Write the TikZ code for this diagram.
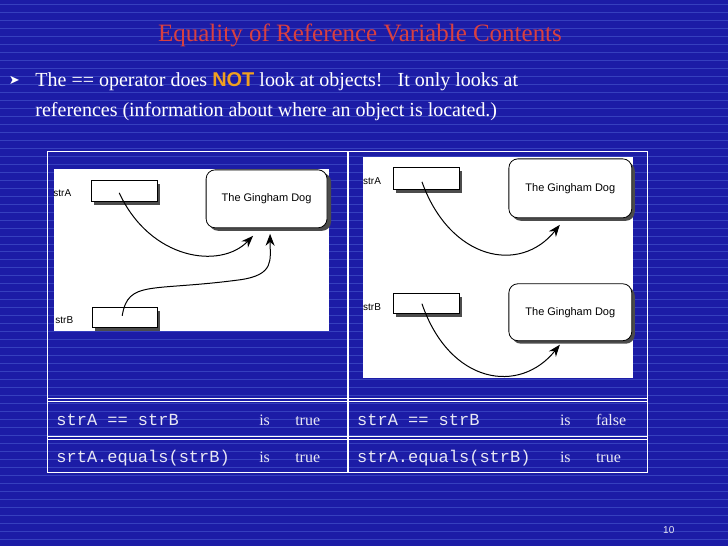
\documentclass[tikz,border=0pt]{standalone}
\usepackage{fontspec}
\setmainfont{Liberation Serif}
\newfontfamily\arialf{Liberation Sans}
\newfontfamily\courf{Liberation Mono}
\newfontfamily\djv{DejaVu Sans}
\usetikzlibrary{arrows.meta}
\definecolor{bg}{HTML}{1C1CA6}
\definecolor{stripe}{HTML}{3640BE}
\definecolor{ttl}{HTML}{D84040}
\definecolor{orng}{HTML}{F0A020}
\definecolor{tbl}{HTML}{E8E8F4}
\tikzset{
  varbox/.style={draw,fill=white,line width=0.8pt,minimum width=66pt,minimum height=21pt,inner sep=0pt},
  dogbox/.style={draw,fill=white,line width=0.8pt,rounded corners=9pt,inner sep=0pt,font=\arialf\fontsize{11}{13}\selectfont},
  shad/.style={fill=black!70},
  lbl/.style={font=\arialf\fontsize{10}{12}\selectfont,inner sep=0pt,anchor=west},
  ref/.style={line width=1pt,-{Stealth[length=12pt,width=9pt]}},
  cell/.style={font=\courf\fontsize{17}{19}\selectfont,text=tbl,anchor=base west,inner sep=0pt},
  celw/.style={font=\fontsize{16}{18}\selectfont,text=tbl,anchor=base west,inner sep=0pt},
  frame/.style={draw=white,line width=1.2pt}
}
\begin{document}
\begin{tikzpicture}[x=1pt,y=-1pt]
\fill[bg] (0,0) rectangle (728,546);
\foreach \yy in {4,12,...,546} \draw[stripe,line width=0.6pt] (0,\yy) -- (728,\yy);
\useasboundingbox (0,0) rectangle (728,546);
\node[text=ttl,font=\fontsize{25}{29}\selectfont] (title) at (360,35) {Equality of Reference Variable Contents};
\node[text=white,font=\djv\fontsize{13}{15}\selectfont] (bul) at (14,80) {➤};
\node[text=white,anchor=west,font=\fontsize{20}{24}\selectfont,inner sep=0pt] (l1) at (35,82) {The == operator does \textcolor{orng}{\arialf\bfseries NOT} look at objects!\ \ \ It only looks at};
\node[text=white,anchor=west,font=\fontsize{20}{24}\selectfont,inner sep=0pt] (l2) at (35,112) {references (information about where an object is located.)};
% table
\draw[frame] (47,152) rectangle (648,473);
\draw[frame] (348,152) -- (348,473);
\draw[frame] (47,399) -- (648,399);
\draw[frame] (47,402) -- (648,402);
\draw[frame] (47,437) -- (648,437);
\draw[frame] (47,440) -- (648,440);
% left panel
\fill[white] (54,169) rectangle (329,331);
\fill[shad] (94,184) rectangle (160,205);
\node[varbox] (a1) at (124,191.5) {};
\fill[shad] (95,311) rectangle (160,331);
\node[varbox,minimum height=20pt,minimum width=65pt] (b1) at (124.5,318) {};
\fill[shad,rounded corners=9pt] (209,173) rectangle (331,231);
\node[dogbox,minimum width=121pt,minimum height=58pt] (d1) at (266.5,199) {The Gingham Dog};
\node[lbl] (la1) at (53,193) {strA};
\node[lbl] (lb1) at (55,320) {strB};
\draw[ref] (119,193) .. controls (150,260) and (220,270) .. (253,236);
\draw[ref] (122,316) .. controls (128,280) and (150,292) .. (240,280) .. controls (275,275) and (270,260) .. (270,234);
% right panel
\fill[white] (363,157) rectangle (633,378);
\fill[shad] (396,171) rectangle (462,193);
\node[varbox,minimum height=22pt] (a2) at (426,179) {};
\fill[shad] (396,297) rectangle (462,317);
\node[varbox,minimum height=20pt] (b2) at (426,304) {};
\fill[shad,rounded corners=9pt] (512,162) rectangle (635,221);
\node[dogbox,minimum width=123pt,minimum height=59pt] (d2) at (570.5,188.5) {The Gingham Dog};
\fill[shad,rounded corners=9pt] (512,287) rectangle (635,344);
\node[dogbox,minimum width=123pt,minimum height=57pt] (d3) at (570.5,312.5) {The Gingham Dog};
\node[lbl] (la2) at (363,181) {strA};
\node[lbl] (lb2) at (363,307) {strB};
\draw[ref] (422,182) .. controls (450,260) and (520,275) .. (560,225);
\draw[ref] (422,304) .. controls (450,385) and (520,395) .. (560,345);
% table text
\node[cell] (c1) at (56,426) {strA == strB};
\node[celw] (c2) at (259,426) {is};
\node[celw] (c3) at (295,426) {true};
\node[cell] (c4) at (357,426) {strA == strB};
\node[celw] (c5) at (560,426) {is};
\node[celw] (c6) at (596,426) {false};
\node[cell] (c7) at (56,463) {srtA.equals(strB)};
\node[celw] (c8) at (259,463) {is};
\node[celw] (c9) at (295,463) {true};
\node[cell] (c10) at (357,463) {strA.equals(strB)};
\node[celw] (c11) at (560,463) {is};
\node[celw] (c12) at (596,463) {true};
\node[text=tbl,font=\arialf\fontsize{10}{12}\selectfont] (pg) at (669,530) {10};
\end{tikzpicture}
\end{document}
